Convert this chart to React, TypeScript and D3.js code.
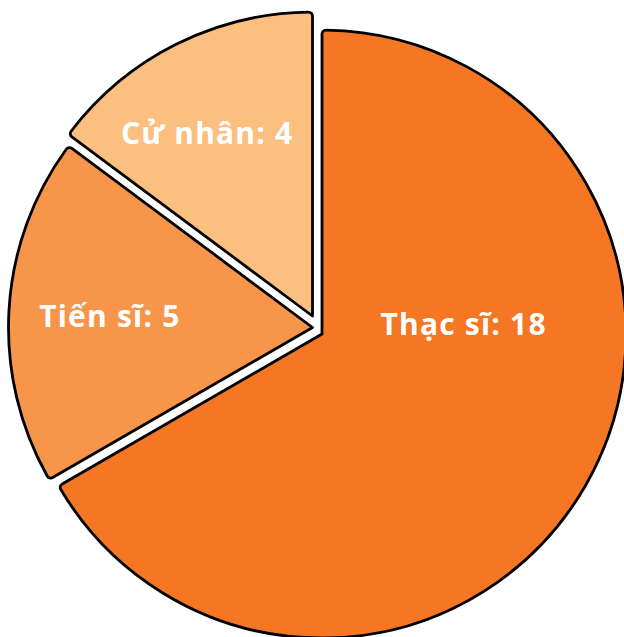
import React, { useEffect, useRef } from "react";
import * as d3 from "d3";

const categories = ["Thạc sĩ", "Tiến sĩ", "Cử nhân"];
const counts = [18, 5, 4];

const colors = ["#F57623", "#F7954A", "#FBC07F"];
// how far each slice is pulled out of the pie, in px [dx, dy]
const pulls: [number, number][] = [
  [6, 7],
  [-3.5, 0.5],
  [-3.5, -11],
];
// label placement per slice: [angle in degrees clockwise from top, distance from slice centre]
const labelSpots: [number, number][] = [
  [85.6, 142],
  [273.4, 203],
  [330.2, 212],
];

const width = 624;
const height = 637;
const cx = 316;
const cy = 327;
const radius = 304;

type Slice = { name: string; value: number };

export default function App() {
  const svgRef = useRef<SVGSVGElement | null>(null);

  useEffect(() => {
    const svg = d3.select(svgRef.current);
    svg.selectAll("*").remove();

    const data: Slice[] = categories.map((name, i) => ({ name, value: counts[i] }));

    const pie = d3
      .pie<Slice>()
      .sort(null)
      .value((d) => d.value)
      .startAngle(0)
      .endAngle(2 * Math.PI);

    const arc = d3
      .arc<d3.PieArcDatum<Slice>>()
      .innerRadius(0)
      .outerRadius(radius)
      .cornerRadius(4);

    const arcs = pie(data);

    const g = svg.append("g").attr("transform", `translate(${cx}, ${cy})`);

    const slice = g
      .selectAll("g.slice")
      .data(arcs)
      .join("g")
      .attr("class", "slice")
      .attr("transform", (d, i) => `translate(${pulls[i][0]}, ${pulls[i][1]})`);

    slice
      .append("path")
      .attr("d", arc)
      .attr("fill", (d, i) => colors[i])
      .attr("stroke", "#000")
      .attr("stroke-width", 2.8)
      .attr("stroke-linejoin", "round");

    slice
      .append("text")
      .attr("x", (d, i) => Math.sin((labelSpots[i][0] * Math.PI) / 180) * labelSpots[i][1])
      .attr("y", (d, i) => -Math.cos((labelSpots[i][0] * Math.PI) / 180) * labelSpots[i][1])
      .attr("text-anchor", "middle")
      .attr("dominant-baseline", "central")
      .attr("fill", "#fff")
      .attr("font-family", "'Open Sans', sans-serif")
      .attr("font-weight", 700)
      .attr("font-size", 30)
      .attr("letter-spacing", 1.2)
      .text((d) => `${d.data.name}: ${d.data.value}`);
  }, []);

  return (
    <div style={{ position: "absolute", left: 0, top: 0 }}>
      <svg ref={svgRef} width={width} height={height} style={{ display: "block" }} />
    </div>
  );
}
